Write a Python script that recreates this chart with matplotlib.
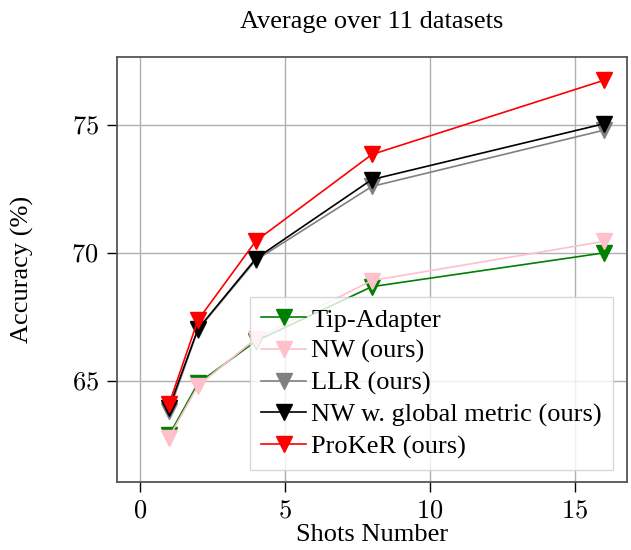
import matplotlib
matplotlib.use("Agg")
import matplotlib.pyplot as plt
from matplotlib.ticker import FixedLocator, FuncFormatter

plt.rcParams['font.family'] = ['Liberation Serif', 'DejaVu Serif']
plt.rcParams['mathtext.fontset'] = 'cm'

shots = [1, 2, 4, 8, 16]
tip_adapter = [62.86, 64.90, 66.55, 68.68, 70.00]
nw_ours = [62.78, 64.80, 66.65, 68.92, 70.45]
llr_ours = [63.80, 67.00, 69.72, 72.60, 74.80]
nw_global = [63.93, 67.02, 69.78, 72.87, 75.05]
proker = [64.08, 67.37, 70.47, 73.85, 76.75]

series = [
    ("Tip-Adapter", tip_adapter, "#008000"),
    ("NW (ours)", nw_ours, "#ffc0cb"),
    ("LLR (ours)", llr_ours, "#808080"),
    ("NW w. global metric (ours)", nw_global, "#000000"),
    ("ProKeR (ours)", proker, "#ff0000"),
]

xticks = [0, 5, 10, 15]
yticks = [65, 70, 75]

fig = plt.figure(figsize=(6.31, 5.5), dpi=100)
ax = fig.add_axes([0.185, 0.1236, 0.8087, 0.7722])

for name, vals, col in series:
    ax.plot(shots, vals, color=col, lw=1.2, marker='v', ms=11,
            mfc=col, mec=col, label=name)

ax.set_xlim(-0.8, 16.8)
ax.set_ylim(61.04, 77.65)
ax.xaxis.set_major_locator(FixedLocator(xticks))
ax.yaxis.set_major_locator(FixedLocator(yticks))
ax.xaxis.set_major_formatter(FuncFormatter(lambda v, p: r'$%d$' % v))
ax.yaxis.set_major_formatter(FuncFormatter(lambda v, p: r'$%d$' % v))
ax.tick_params(axis='both', direction='out', length=7, width=1, labelsize=19,
               colors='black', top=False, right=False, pad=6)
ax.grid(True, color='#b0b0b0', lw=1)
ax.set_axisbelow(True)
for sp in ax.spines.values():
    sp.set_color('#555555')
    sp.set_linewidth(1.3)

ax.set_xlabel('Shots Number', fontsize=19)
ax.set_ylabel('Accuracy (%)', fontsize=19)
ax.xaxis.set_label_coords(0.5, -0.099)
ax.yaxis.set_label_coords(-0.162, 0.5)
ax.set_title('Average over 11 datasets', fontsize=19, pad=21)

leg = ax.legend(loc='lower right', bbox_to_anchor=(0.9726, 0.0283),
                fontsize=19, fancybox=False, framealpha=0.8,
                edgecolor='#cccccc', handlelength=1.7, borderpad=0.42,
                labelspacing=0.3, handletextpad=0.2, borderaxespad=0)
leg.get_frame().set_linewidth(1)

fig.savefig('out.png', dpi=100)
